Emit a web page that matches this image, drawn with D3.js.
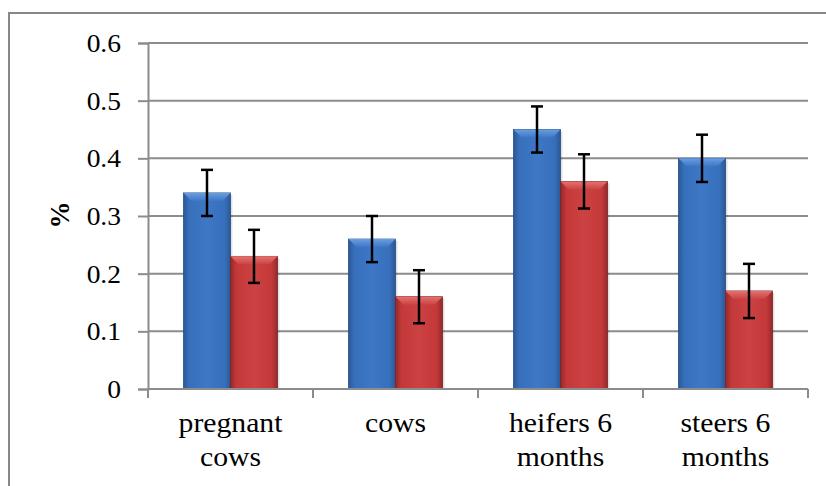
<!DOCTYPE html>
<html>
<head>
<meta charset="utf-8">
<script src="https://cdn.jsdelivr.net/npm/d3@7"></script>
<style>
  body { margin: 0; background: #fff; }
</style>
</head>
<body>
<svg id="chart" width="826" height="486"></svg>
<script>
var categories = [["pregnant", "cows"], ["cows"], ["heifers 6", "months"], ["steers 6", "months"]];
var seriesNames = ["s1", "s2"];
var blueValues = [0.34, 0.26, 0.45, 0.40];
var redValues = [0.23, 0.16, 0.36, 0.17];
var blueErrors = [0.04, 0.04, 0.04, 0.041];
var redErrors = [0.046, 0.046, 0.047, 0.047];
var yTicks = [0, 0.1, 0.2, 0.3, 0.4, 0.5, 0.6];

var FONT = "'Liberation Serif'";
var stretch = 1.1;

var svg = d3.select("#chart"),
  margin = { top: 43, right: 18, bottom: 97, left: 148 },
  width = +svg.attr("width") - margin.left - margin.right,
  height = +svg.attr("height") - margin.top - margin.bottom;

// outer frame
svg.append("rect")
  .attr("x", 9).attr("y", 13)
  .attr("width", 830).attr("height", 500)
  .attr("fill", "none")
  .attr("stroke", "#878787")
  .attr("stroke-width", 2);

var defs = svg.append("defs");
var palettes = {
  s1: { dark: "#2b5894", mid: "#376fbb", light: "#3d78c6", bevel: "#6a9de0", edge: "#244d85" },
  s2: { dark: "#93292a", mid: "#c33838", light: "#cc4242", bevel: "#e47272", edge: "#7e2222" }
};
Object.keys(palettes).forEach(function (k) {
  var p = palettes[k];
  var gr = defs.append("linearGradient").attr("id", "side-" + k)
    .attr("x1", "0").attr("x2", "1").attr("y1", "0").attr("y2", "0");
  gr.append("stop").attr("offset", "0").attr("stop-color", p.dark);
  gr.append("stop").attr("offset", "0.12").attr("stop-color", p.mid);
  gr.append("stop").attr("offset", "0.5").attr("stop-color", p.light);
  gr.append("stop").attr("offset", "0.88").attr("stop-color", p.mid);
  gr.append("stop").attr("offset", "1").attr("stop-color", p.dark);
  var b = defs.append("linearGradient").attr("id", "bevel-" + k)
    .attr("x1", "0").attr("x2", "0").attr("y1", "0").attr("y2", "1");
  b.append("stop").attr("offset", "0").attr("stop-color", p.bevel);
  b.append("stop").attr("offset", "1").attr("stop-color", p.light);
});

var g = svg.append("g")
  .attr("transform", "translate(" + margin.left + "," + margin.top + ")");

var x0 = d3.scaleBand().domain(d3.range(categories.length)).range([0, width]).padding(0);
var x1 = d3.scaleBand().domain(seriesNames)
  .range([(x0.bandwidth() - 94) / 2, (x0.bandwidth() + 94) / 2]).padding(0);
var y = d3.scaleLinear().domain([0, 0.6]).range([height, 0]);

// gridlines
g.append("g")
  .selectAll("line")
  .data(yTicks.filter(function (d) { return d > 0; }))
  .enter().append("line")
  .attr("x1", 0).attr("x2", width)
  .attr("y1", function (d) { return y(d); })
  .attr("y2", function (d) { return y(d); })
  .attr("stroke", "#8c8c8c")
  .attr("stroke-width", 2);

// y axis
var yAxis = g.append("g")
  .call(d3.axisLeft(y).tickValues(yTicks).tickSize(10).tickPadding(0)
    .tickFormat(function (d) { return d === 0 ? "0" : d3.format(".1f")(d); }));
yAxis.attr("font-family", null).attr("font-size", null);
yAxis.select(".domain").attr("stroke", "#8c8c8c").attr("stroke-width", 2);
yAxis.selectAll(".tick line").attr("stroke", "#8c8c8c").attr("stroke-width", 2);
yAxis.selectAll(".tick text")
  .attr("x", null)
  .attr("dy", "0.34em")
  .attr("transform", "translate(-27,0) scale(" + stretch + ",1)")
  .style("font-family", FONT)
  .attr("font-size", 25)
  .attr("fill", "#000");

// bars
var data = [];
categories.forEach(function (c, i) {
  data.push({ cat: i, s: "s1", v: blueValues[i], e: blueErrors[i] });
  data.push({ cat: i, s: "s2", v: redValues[i], e: redErrors[i] });
});

var bars = g.selectAll(".bar")
  .data(data)
  .enter().append("g")
  .attr("class", "bar")
  .attr("transform", function (d) { return "translate(" + (x0(d.cat) + x1(d.s)) + ",0)"; });

bars.append("rect")
  .attr("x", 2).attr("y", function (d) { return y(d.v) + 2; })
  .attr("width", x1.bandwidth())
  .attr("height", function (d) { return height - y(d.v) - 2; })
  .attr("fill", "#000").attr("opacity", 0.12);

bars.append("rect")
  .attr("x", 0).attr("y", function (d) { return y(d.v); })
  .attr("width", x1.bandwidth())
  .attr("height", function (d) { return height - y(d.v); })
  .attr("fill", function (d) { return "url(#side-" + d.s + ")"; })
  .attr("stroke", function (d) { return palettes[d.s].edge; })
  .attr("stroke-width", 0.8);

bars.append("path")
  .attr("d", function (d) {
    var w = x1.bandwidth(), t = y(d.v), b = 8;
    return "M0," + t + "L" + w + "," + t + "L" + (w - b) + "," + (t + b) + "L" + b + "," + (t + b) + "Z";
  })
  .attr("fill", function (d) { return "url(#bevel-" + d.s + ")"; });

// error bars
var err = bars.append("g").attr("stroke", "#000").attr("stroke-width", 2.5);
err.append("line")
  .attr("x1", x1.bandwidth() / 2).attr("x2", x1.bandwidth() / 2)
  .attr("y1", function (d) { return y(d.v + d.e); })
  .attr("y2", function (d) { return y(d.v - d.e); });
err.append("line")
  .attr("x1", x1.bandwidth() / 2 - 6).attr("x2", x1.bandwidth() / 2 + 6)
  .attr("y1", function (d) { return y(d.v + d.e); })
  .attr("y2", function (d) { return y(d.v + d.e); });
err.append("line")
  .attr("x1", x1.bandwidth() / 2 - 6).attr("x2", x1.bandwidth() / 2 + 6)
  .attr("y1", function (d) { return y(d.v - d.e); })
  .attr("y2", function (d) { return y(d.v - d.e); });

// x axis
var xAxis = g.append("g").attr("transform", "translate(0," + height + ")");
xAxis.append("line")
  .attr("x1", 0).attr("x2", width)
  .attr("stroke", "#8c8c8c").attr("stroke-width", 2);
xAxis.selectAll(".xtick")
  .data(d3.range(categories.length + 1))
  .enter().append("line")
  .attr("x1", function (d) { return d * x0.bandwidth(); })
  .attr("x2", function (d) { return d * x0.bandwidth(); })
  .attr("y1", 0).attr("y2", 9)
  .attr("stroke", "#8c8c8c").attr("stroke-width", 2);

var labels = xAxis.selectAll(".xlabel")
  .data(categories)
  .enter().append("text")
  .attr("text-anchor", "middle")
  .style("font-family", FONT)
  .attr("font-size", 27)
  .attr("fill", "#000")
  .attr("transform", function (d, i) {
    return "translate(" + (x0(i) + x0.bandwidth() / 2) + ",43) scale(" + stretch + ",1)";
  });
labels.selectAll("tspan")
  .data(function (d) { return d; })
  .enter().append("tspan")
  .attr("x", 0)
  .attr("dy", function (d, i) { return i === 0 ? 0 : 34; })
  .text(function (d) { return d; });

// y label
svg.append("text")
  .attr("transform", "translate(69," + (margin.top + height / 2 - 1) + ") rotate(-90)")
  .attr("text-anchor", "middle")
  .style("font-family", FONT)
  .attr("font-size", 27)
  .attr("font-weight", "bold")
  .text("%");
</script>
</body>
</html>
